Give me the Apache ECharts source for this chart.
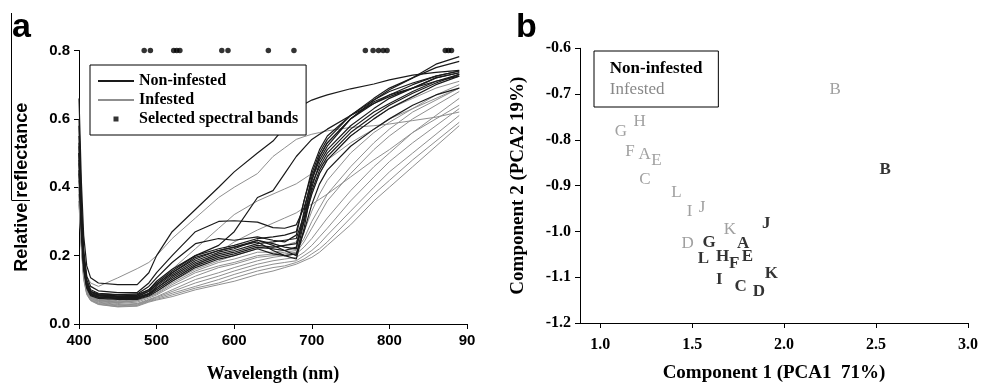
<!DOCTYPE html>
<html><head><meta charset="utf-8">
<script src="https://cdn.jsdelivr.net/npm/echarts@6/dist/echarts.min.js"></script>
<style>html,body{margin:0;padding:0;background:#fff}#c{width:981px;height:388px}</style>
</head><body><div id="c"></div>
<script>
// ---- Panel a: spectra ----
const wavelengths = [400,403,406,410,415,425,450,475,490,500,520,550,580,600,630,650,665,680,690,700,710,720,750,780,800,830,860,890];

const nonInf1  = [0.66,0.42,0.26,0.17,0.135,0.12,0.115,0.115,0.15,0.2,0.27,0.335,0.4,0.445,0.5,0.535,0.575,0.625,0.643,0.655,0.663,0.67,0.688,0.702,0.714,0.728,0.736,0.742];
const nonInf2  = [0.6,0.36,0.22,0.14,0.11,0.097,0.092,0.092,0.12,0.15,0.2,0.27,0.3,0.302,0.298,0.282,0.28,0.29,0.34,0.42,0.48,0.52,0.6,0.65,0.67,0.69,0.71,0.725];
const nonInf3  = [0.58,0.35,0.2,0.13,0.1,0.09,0.086,0.088,0.11,0.135,0.18,0.235,0.25,0.245,0.255,0.245,0.24,0.26,0.36,0.44,0.5,0.54,0.61,0.66,0.69,0.72,0.76,0.782];
const nonInf4  = [0.53,0.32,0.19,0.12,0.095,0.086,0.082,0.084,0.1,0.125,0.16,0.2,0.23,0.27,0.37,0.39,0.44,0.49,0.515,0.54,0.555,0.57,0.61,0.645,0.665,0.69,0.72,0.735];
const nonInf5  = [0.55,0.33,0.19,0.12,0.095,0.085,0.08,0.08,0.095,0.115,0.15,0.19,0.215,0.225,0.24,0.215,0.2,0.19,0.28,0.4,0.47,0.51,0.58,0.63,0.66,0.69,0.72,0.735];
const nonInf6  = [0.5,0.3,0.18,0.115,0.09,0.082,0.078,0.078,0.09,0.11,0.145,0.185,0.21,0.22,0.245,0.235,0.225,0.22,0.33,0.43,0.49,0.53,0.6,0.645,0.67,0.7,0.725,0.74];
const nonInf7  = [0.48,0.29,0.17,0.11,0.088,0.08,0.076,0.076,0.088,0.105,0.14,0.18,0.205,0.215,0.235,0.24,0.245,0.25,0.32,0.41,0.46,0.5,0.57,0.62,0.645,0.68,0.71,0.73];
const nonInf8  = [0.45,0.28,0.165,0.108,0.085,0.078,0.074,0.074,0.085,0.1,0.13,0.17,0.195,0.205,0.225,0.22,0.215,0.225,0.3,0.38,0.44,0.48,0.55,0.6,0.63,0.665,0.7,0.725];
const nonInf9  = [0.52,0.31,0.185,0.12,0.095,0.088,0.085,0.086,0.1,0.12,0.155,0.2,0.22,0.23,0.25,0.255,0.26,0.27,0.36,0.45,0.51,0.55,0.61,0.655,0.68,0.705,0.725,0.74];
const nonInf10 = [0.44,0.27,0.16,0.105,0.083,0.075,0.072,0.072,0.082,0.095,0.125,0.165,0.19,0.2,0.22,0.205,0.2,0.205,0.27,0.35,0.41,0.45,0.52,0.57,0.6,0.64,0.67,0.69];
const nonInf11 = [0.5,0.3,0.18,0.118,0.092,0.084,0.08,0.082,0.096,0.115,0.15,0.195,0.215,0.225,0.245,0.23,0.215,0.2,0.3,0.42,0.49,0.53,0.6,0.655,0.685,0.72,0.75,0.768];
const nonInf12 = [0.47,0.285,0.17,0.11,0.087,0.079,0.075,0.076,0.087,0.105,0.135,0.175,0.2,0.21,0.23,0.225,0.23,0.235,0.31,0.39,0.45,0.49,0.56,0.61,0.64,0.675,0.705,0.73];

const inf1  = [0.5,0.32,0.2,0.14,0.12,0.11,0.135,0.162,0.18,0.2,0.25,0.31,0.37,0.4,0.44,0.49,0.515,0.54,0.548,0.555,0.56,0.565,0.575,0.58,0.585,0.595,0.605,0.62];
const inf2  = [0.45,0.28,0.17,0.11,0.088,0.075,0.068,0.075,0.1,0.12,0.16,0.22,0.28,0.32,0.36,0.38,0.395,0.41,0.425,0.44,0.46,0.48,0.53,0.57,0.6,0.63,0.66,0.69];
const inf3  = [0.42,0.27,0.16,0.105,0.083,0.07,0.064,0.07,0.088,0.1,0.13,0.17,0.21,0.24,0.275,0.295,0.31,0.325,0.34,0.35,0.365,0.38,0.43,0.48,0.51,0.56,0.6,0.64];
const inf4  = [0.4,0.26,0.155,0.1,0.08,0.068,0.062,0.068,0.08,0.09,0.12,0.155,0.18,0.19,0.21,0.21,0.215,0.22,0.27,0.33,0.38,0.42,0.5,0.56,0.59,0.63,0.67,0.7];
const inf5  = [0.4,0.25,0.15,0.098,0.078,0.066,0.06,0.064,0.076,0.085,0.11,0.14,0.165,0.175,0.195,0.2,0.205,0.21,0.24,0.28,0.32,0.36,0.44,0.51,0.55,0.6,0.64,0.68];
const inf6  = [0.38,0.24,0.145,0.095,0.076,0.064,0.057,0.06,0.072,0.08,0.1,0.13,0.15,0.165,0.185,0.195,0.2,0.205,0.225,0.25,0.28,0.31,0.39,0.46,0.5,0.56,0.61,0.66];
const inf7  = [0.38,0.24,0.14,0.093,0.074,0.062,0.055,0.058,0.07,0.078,0.095,0.12,0.14,0.155,0.175,0.185,0.19,0.195,0.21,0.23,0.255,0.28,0.36,0.43,0.475,0.53,0.58,0.63];
const inf8  = [0.36,0.23,0.14,0.09,0.072,0.06,0.053,0.056,0.068,0.075,0.09,0.11,0.13,0.145,0.165,0.175,0.18,0.185,0.2,0.215,0.235,0.26,0.33,0.4,0.445,0.5,0.555,0.61];
const inf9  = [0.36,0.23,0.135,0.088,0.07,0.058,0.051,0.054,0.066,0.072,0.085,0.105,0.12,0.135,0.155,0.165,0.17,0.18,0.19,0.205,0.22,0.24,0.31,0.38,0.42,0.48,0.535,0.59];
const inf10 = [0.35,0.22,0.13,0.086,0.068,0.057,0.05,0.052,0.064,0.07,0.08,0.1,0.115,0.125,0.145,0.155,0.165,0.175,0.185,0.195,0.21,0.23,0.29,0.36,0.4,0.46,0.52,0.58];
const inf11 = [0.42,0.27,0.16,0.105,0.084,0.072,0.066,0.072,0.086,0.095,0.125,0.16,0.185,0.2,0.22,0.225,0.23,0.24,0.3,0.38,0.44,0.48,0.55,0.6,0.63,0.66,0.69,0.71];
const inf12 = [0.4,0.26,0.155,0.1,0.081,0.069,0.063,0.068,0.08,0.088,0.115,0.15,0.17,0.18,0.2,0.205,0.21,0.215,0.25,0.3,0.34,0.38,0.46,0.53,0.57,0.62,0.655,0.69];

const bandWavelengths = [484,492,522,526,530,584,592,644,677,769,779,786,792,797,872,876,880];
const bandLevel = 0.8;

const xTicksA = [400,500,600,700,800,900];
const xTickLabelsA = ['400','500','600','700','800','90'];

// ---- Panel b: PCA ----
const letters = ['A','B','C','D','E','F','G','H','I','J','K','L'];
const nonInfPC1 = [1.777,2.55,1.763,1.863,1.80,1.728,1.592,1.665,1.647,1.903,1.93,1.561];
const nonInfPC2 = [-1.026,-0.864,-1.12,-1.131,-1.054,-1.071,-1.025,-1.056,-1.106,-0.982,-1.093,-1.059];
const infPC1 = [1.241,2.277,1.243,1.475,1.306,1.162,1.112,1.214,1.486,1.554,1.705,1.414];
const infPC2 = [-0.832,-0.691,-0.886,-1.026,-0.846,-0.826,-0.782,-0.761,-0.956,-0.948,-0.995,-0.914];
const xTicksB = [1.0,1.5,2.0,2.5,3.0];

// ---- build ----
const nonInfSpectra = [nonInf1,nonInf2,nonInf3,nonInf4,nonInf5,nonInf6,nonInf7,nonInf8,nonInf9,nonInf10,nonInf11,nonInf12];
const infSpectra = [inf1,inf2,inf3,inf4,inf5,inf6,inf7,inf8,inf9,inf10,inf11,inf12];
const toPairs = arr => wavelengths.map((w,i)=>[w,arr[i]]);

const BLACK='#1a1a1a', GREY='#8f8f8f';
const serif='"Liberation Serif", "Times New Roman", serif';
const sans='"Liberation Sans", Arial, sans-serif';

const series = [];
infSpectra.forEach(a=>series.push({type:'line',name:'Infested',xAxisIndex:0,yAxisIndex:0,data:toPairs(a),
  symbol:'none',showSymbol:false,silent:true,lineStyle:{color:GREY,width:1},itemStyle:{color:GREY}}));
nonInfSpectra.forEach(a=>series.push({type:'line',name:'Non-infested',xAxisIndex:0,yAxisIndex:0,data:toPairs(a),
  symbol:'none',showSymbol:false,silent:true,lineStyle:{color:BLACK,width:1.2},itemStyle:{color:BLACK}}));
series.push({type:'scatter',name:'Selected spectral bands',xAxisIndex:0,yAxisIndex:0,
  data:bandWavelengths.map(w=>[w,bandLevel]),symbol:'circle',symbolSize:5.5,itemStyle:{color:'#000'},clip:false,silent:true});

function pcaSeries(name, xs, ys, color, weight){
  return {type:'scatter',name:name,xAxisIndex:1,yAxisIndex:1,silent:true,
    data:letters.map((l,i)=>({value:[xs[i],ys[i]],name:l})),
    symbol:'rect',symbolSize:14,itemStyle:{color:'rgba(0,0,0,0)'},
    label:{show:true,position:'inside',formatter:p=>p.name,color:color,fontFamily:serif,fontWeight:weight,fontSize:17}};
}
series.push(pcaSeries('Infested',infPC1,infPC2,'#888','normal'));
series.push(pcaSeries('Non-infested',nonInfPC1,nonInfPC2,'#000','bold'));

const axisCommon = {axisLine:{lineStyle:{color:'#000',width:1}},axisTick:{show:true,length:5,lineStyle:{color:'#000'}},splitLine:{show:false}};
const hiddenSymbol = {color:'rgba(0,0,0,0)',borderWidth:0,opacity:0};

const option = {
  backgroundColor:'#fff',
  animation:false,
  grid:[
    {left:79,top:50.5,width:388,height:277.5},
    {left:580,top:48.3,width:391.7,height:280}
  ],
  xAxis:[
    Object.assign({},axisCommon,{type:'value',gridIndex:0,min:400,max:900,interval:100,
      axisLabel:{fontFamily:sans,fontWeight:'bold',fontSize:15,color:'#000',margin:9,
        formatter:v=>xTickLabelsA[xTicksA.indexOf(v)]},
      name:'Wavelength (nm)',nameLocation:'middle',nameGap:41,
      nameTextStyle:{fontFamily:serif,fontWeight:'bold',fontSize:18,color:'#000'}}),
    Object.assign({},axisCommon,{type:'value',gridIndex:1,min:0.89,max:3.0,
      axisTick:{show:true,length:5,lineStyle:{color:'#000'},customValues:xTicksB},
      axisLabel:{fontFamily:serif,fontWeight:'bold',fontSize:16,color:'#000',margin:14,
        customValues:xTicksB,formatter:v=>Number(v).toFixed(1)},
      name:'Component 1 (PCA1  71%)',nameLocation:'middle',nameGap:41,
      nameTextStyle:{fontFamily:serif,fontWeight:'bold',fontSize:19,color:'#000'}})
  ],
  yAxis:[
    Object.assign({},axisCommon,{type:'value',gridIndex:0,min:0,max:0.8,interval:0.2,
      axisLabel:{fontFamily:sans,fontWeight:'bold',fontSize:15,color:'#000',margin:9,formatter:v=>Number(v).toFixed(1)},
      name:'Relative reflectance',nameLocation:'middle',nameGap:48,
      nameTextStyle:{fontFamily:sans,fontWeight:'bold',fontSize:18,color:'#000'}}),
    Object.assign({},axisCommon,{type:'value',gridIndex:1,min:-1.2,max:-0.6,interval:0.1,
      axisLabel:{fontFamily:serif,fontWeight:'bold',fontSize:16,color:'#000',margin:9,formatter:v=>Number(v).toFixed(1)},
      name:'Component 2 (PCA2 19%)',nameLocation:'middle',nameGap:52,
      nameTextStyle:{fontFamily:serif,fontWeight:'bold',fontSize:19,color:'#000'}})
  ],
  legend:[
    {orient:'vertical',left:90,top:65,padding:[8,8,8,7],itemGap:3,itemWidth:36,itemHeight:16,
     borderColor:'#000',borderWidth:1,backgroundColor:'#fff',selectedMode:false,
     textStyle:{fontFamily:serif,fontWeight:'bold',fontSize:16,color:'#000'},
     data:[{name:'Non-infested',itemStyle:hiddenSymbol},{name:'Infested',itemStyle:hiddenSymbol},
       {name:'Selected spectral bands',icon:'path://M0,0L0,0M36,16L36,16M15.5,5.5L20.5,5.5L20.5,10.5L15.5,10.5Z'}]},
    {orient:'vertical',left:594,top:51,padding:[9,16,9,4],itemGap:4,itemWidth:0,itemHeight:17,
     borderColor:'#000',borderWidth:1,selectedMode:false,
     lineStyle:{opacity:0},itemStyle:{opacity:0},
     textStyle:{fontFamily:serif,fontSize:17,color:'#000'},
     data:[{name:'Non-infested',textStyle:{fontWeight:'bold',color:'#000'}},
           {name:'Infested',textStyle:{fontWeight:'normal',color:'#888'}}]}
  ],
  graphic:[
    {type:'text',left:12,top:11,style:{text:'a',font:'bold 34px '+sans,fill:'#000'}},
    {type:'text',left:516,top:11,style:{text:'b',font:'bold 34px '+sans,fill:'#000'}},
    {type:'line',shape:{x1:11.5,y1:13,x2:11.5,y2:200},style:{stroke:'#000',lineWidth:1}},
    {type:'line',shape:{x1:11.5,y1:200.5,x2:30,y2:200.5},style:{stroke:'#000',lineWidth:1}}
  ],
  series:series
};
const chart = echarts.init(document.getElementById('c'),null,{renderer:'canvas'});
chart.setOption(option);
</script></body></html>
